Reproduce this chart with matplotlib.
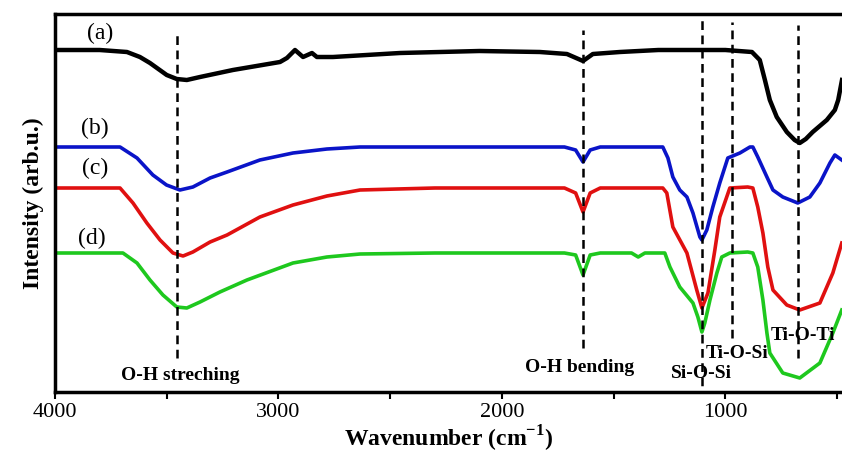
import numpy as np
import matplotlib.pyplot as plt
from matplotlib.ticker import MultipleLocator

# FTIR spectra (wavenumber in cm^-1, intensity in arb. units, traces offset)
wn_a = [4000, 3800, 3678, 3620, 3575, 3500, 3455, 3410, 3351, 3204, 2993, 2962, 2926, 2890, 2850, 2828, 2756, 2456, 2100, 1830, 1709, 1637, 1593, 1472, 1300, 1000, 881, 846, 823, 801, 770, 725, 690, 667, 640, 609, 546, 510, 495, 478]
in_a = [350, 350, 348, 343, 337, 325, 321, 320, 323, 330, 338, 342, 350, 343, 347, 343, 343, 347, 349, 348, 346, 339, 346, 348, 350, 350, 348, 340, 320, 300, 283, 268, 260, 257, 261, 268, 280, 290, 300, 320]

wn_b = [4000, 3800, 3709, 3633, 3562, 3501, 3441, 3383, 3306, 3230, 3083, 2935, 2783, 2635, 2300, 1900, 1720, 1670, 1637, 1605, 1560, 1400, 1300, 1280, 1257, 1235, 1204, 1172, 1145, 1114, 1105, 1083, 1056, 1025, 989, 935, 890, 877, 855, 814, 787, 743, 676, 622, 577, 532, 510, 479]
in_b = [253, 253, 253, 242, 225, 215, 210, 213, 222, 228, 240, 247, 251, 253, 253, 253, 253, 250, 238, 250, 253, 253, 253, 253, 242, 223, 210, 203, 187, 163, 160, 170, 193, 217, 242, 247, 253, 253, 243, 223, 210, 203, 197, 203, 217, 237, 245, 240]

wn_c = [4000, 3800, 3709, 3651, 3589, 3530, 3472, 3427, 3383, 3306, 3230, 3083, 2935, 2783, 2635, 2300, 1900, 1720, 1670, 1637, 1605, 1560, 1400, 1300, 1280, 1262, 1235, 1172, 1128, 1105, 1078, 1047, 1025, 980, 900, 877, 855, 832, 810, 787, 725, 667, 577, 519, 479]
in_c = [212, 212, 212, 197, 177, 160, 147, 144, 148, 158, 165, 183, 195, 204, 210, 212, 212, 212, 207, 188, 207, 212, 212, 212, 212, 207, 173, 147, 110, 92, 107, 150, 183, 212, 213, 212, 193, 167, 133, 110, 95, 90, 97, 127, 157]

wn_d = [4000, 3800, 3696, 3633, 3575, 3517, 3455, 3410, 3351, 3262, 3141, 2935, 2783, 2635, 2300, 1900, 1720, 1670, 1637, 1605, 1560, 1420, 1390, 1360, 1300, 1271, 1248, 1204, 1145, 1123, 1105, 1092, 1069, 1038, 1016, 980, 900, 877, 855, 832, 814, 801, 743, 667, 577, 519, 479]
in_d = [147, 147, 147, 137, 120, 105, 93, 92, 98, 108, 120, 137, 143, 146, 147, 147, 147, 145, 125, 145, 147, 147, 143, 147, 147, 147, 133, 113, 97, 83, 68, 77, 100, 127, 143, 147, 148, 147, 133, 100, 67, 47, 27, 22, 37, 67, 90]

peaks = [3455, 1637, 1105, 971, 676]
peak_top = [368, 370, 385, 378, 375]
peak_bottom = [42, 52, 0, 62, 42]
peak_labels = ["O-H streching", "O-H bending", "Si-O-Si", "Ti-O-Si", "Ti-O-Ti"]
label_x = [3441, 1651, 1105, 949, 653]
label_y = [25, 33, 27, 47, 65]

curve_labels = ["(a)", "(b)", "(c)", "(d)"]
curve_label_x = [3799, 3821, 3821, 3834]
curve_label_y = [367, 272, 232, 162]

plt.rcParams['font.family'] = ['Liberation Serif', 'DejaVu Serif']
plt.rcParams['mathtext.fontset'] = 'custom'
plt.rcParams['mathtext.rm'] = 'Liberation Serif:bold'
plt.rcParams['mathtext.bf'] = 'Liberation Serif:bold'
fig = plt.figure(figsize=(8.42, 4.57), dpi=100)
ax = fig.add_axes([55/842, 1-392/457, 1-55/842, (392-14)/457])

ax.plot(wn_a, in_a, color='black', lw=3.2, solid_joinstyle='round')
ax.plot(wn_b, in_b, color='#0a14c8', lw=2.6, solid_joinstyle='round')
ax.plot(wn_c, in_c, color='#e01010', lw=2.6, solid_joinstyle='round')
ax.plot(wn_d, in_d, color='#1ec81e', lw=2.6, solid_joinstyle='round')

for p, t, b in zip(peaks, peak_top, peak_bottom):
    ax.plot([p, p], [b, t], color='black', lw=1.8, ls=(0, (3.5, 2.2)))

for s, x, y in zip(peak_labels, label_x, label_y):
    ax.text(x, y, s, ha='center', va='center', fontsize=14, fontweight='bold')

for s, x, y in zip(curve_labels, curve_label_x, curve_label_y):
    ax.text(x, y, s, ha='center', va='center', fontsize=17)

ax.set_xlim(4000, 478)
ax.set_ylim(8, 386)
ax.set_yticks([])
ax.xaxis.set_major_locator(MultipleLocator(1000))
ax.xaxis.set_minor_locator(MultipleLocator(500))
ax.tick_params(axis='x', which='both', direction='out', length=5, width=1.5, labelsize=16, pad=3)
for side in ['left', 'top', 'bottom']:
    ax.spines[side].set_linewidth(2.5)
ax.spines['right'].set_visible(False)

ax.set_xlabel("Wavenumber (cm$^{-1}$)", fontsize=17, fontweight='bold', labelpad=1)
ax.set_ylabel("Intensity (arb.u.)", fontsize=17, fontweight='bold', labelpad=8)

fig.savefig("out.png", dpi=100)
